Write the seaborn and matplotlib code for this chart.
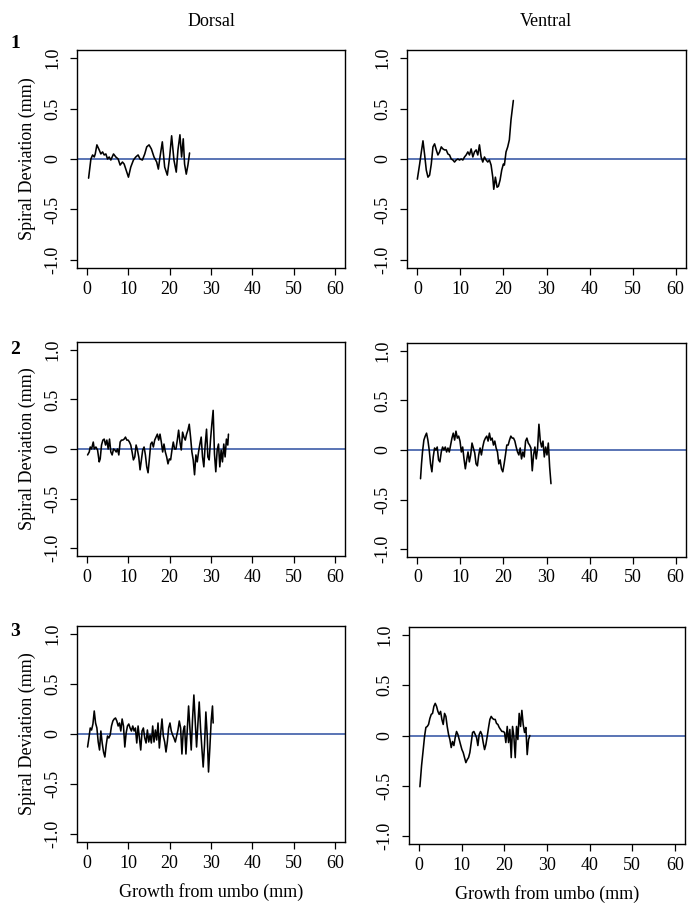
import numpy as np
import pandas as pd
import matplotlib
matplotlib.use("Agg")
import matplotlib.pyplot as plt
import seaborn as sns

# Spiral deviation traces (x: growth from umbo in mm, y: deviation in mm)
dorsal1_x = [0.40, 0.96, 1.37, 1.77, 2.01, 2.41, 2.97, 3.37, 3.78, 4.18,
             4.58, 4.98, 5.38, 5.78, 6.43, 6.99, 7.55, 8.03, 8.59, 9.00,
             9.48, 10.04, 10.60, 11.25, 11.81, 12.37, 12.85, 13.41, 13.98, 14.46,
             15.02, 15.58, 16.22, 16.87, 17.27, 17.67, 18.23, 18.80, 19.44, 20.00,
             20.48, 21.04, 21.60, 22.01, 22.49, 22.89, 23.29, 23.61, 24.02, 24.42,
             24.82]
dorsal1_y = [-0.19, 0.00, 0.04, 0.02, 0.05, 0.14, 0.09, 0.05, 0.07, 0.04,
             0.05, 0.00, 0.02, -0.01, 0.05, 0.02, 0.00, -0.06, -0.03, -0.05,
             -0.11, -0.18, -0.08, -0.01, 0.02, 0.04, 0.00, -0.01, 0.05, 0.12,
             0.14, 0.10, 0.02, -0.03, -0.10, 0.02, 0.17, -0.08, -0.16, 0.02,
             0.23, -0.01, -0.13, 0.09, 0.24, 0.02, 0.20, -0.05, -0.15, -0.06,
             0.06]

ventral1_x = [0.00, 0.54, 0.93, 1.31, 1.70, 2.08, 2.47, 2.85, 3.24, 3.63,
              4.01, 4.40, 4.78, 5.17, 5.56, 5.94, 6.33, 6.71, 7.10, 7.48,
              7.87, 8.26, 8.64, 9.03, 9.41, 9.80, 10.19, 10.57, 10.96, 11.34,
              11.73, 12.11, 12.50, 12.89, 13.27, 13.66, 14.04, 14.43, 14.81, 15.20,
              15.59, 15.97, 16.36, 16.74, 17.13, 17.52, 17.75, 18.13, 18.52, 18.83,
              19.21, 19.60, 19.98, 20.22, 20.60, 20.99, 21.37, 21.76, 22.30]
ventral1_y = [-0.20, -0.05, 0.07, 0.18, 0.04, -0.11, -0.18, -0.16, -0.05, 0.12,
              0.15, 0.09, 0.04, 0.07, 0.12, 0.10, 0.09, 0.09, 0.05, 0.04,
              0.00, -0.01, -0.03, -0.01, 0.00, -0.01, 0.00, -0.01, 0.02, 0.04,
              0.07, 0.04, 0.10, 0.02, 0.07, 0.09, 0.04, 0.14, 0.02, -0.03,
              0.02, -0.01, -0.03, -0.01, -0.06, -0.18, -0.30, -0.18, -0.28, -0.27,
              -0.21, -0.11, -0.05, -0.06, 0.07, 0.12, 0.19, 0.39, 0.58]

dorsal2_x = [0.16, 0.56, 0.80, 1.12, 1.53, 1.77, 2.17, 2.57, 2.97, 3.21,
             3.53, 3.86, 4.18, 4.50, 4.82, 5.14, 5.46, 5.78, 6.10, 6.43,
             6.75, 7.07, 7.39, 7.71, 8.03, 8.35, 8.67, 9.00, 9.32, 9.64,
             9.96, 10.28, 10.60, 10.92, 11.24, 11.57, 11.89, 12.21, 12.53, 12.85,
             13.17, 13.49, 13.82, 14.14, 14.46, 14.78, 15.10, 15.42, 15.74, 16.06,
             16.39, 16.71, 17.03, 17.35, 17.67, 17.99, 18.31, 18.63, 18.96, 19.28,
             19.60, 19.92, 20.24, 20.56, 20.88, 21.20, 21.53, 21.85, 22.17, 22.49,
             22.81, 23.13, 23.45, 23.78, 24.10, 24.42, 24.74, 25.06, 25.38, 25.70,
             26.02, 26.35, 26.67, 26.99, 27.31, 27.63, 27.95, 28.27, 28.59, 28.92,
             29.24, 29.56, 29.88, 30.20, 30.52, 30.84, 31.16, 31.49, 31.81, 32.13,
             32.45, 32.77, 33.09, 33.41, 33.73, 34.06, 34.22]
dorsal2_y = [-0.06, -0.03, 0.02, 0.00, 0.07, 0.00, 0.02, -0.01, -0.13, -0.10,
             0.04, 0.09, 0.10, 0.04, 0.09, 0.00, 0.10, -0.03, -0.06, 0.00,
             -0.01, -0.03, 0.00, -0.06, 0.07, 0.09, 0.09, 0.10, 0.12, 0.09,
             0.09, 0.07, 0.04, -0.03, -0.11, -0.08, 0.04, -0.01, -0.08, -0.21,
             -0.11, -0.01, 0.02, -0.06, -0.18, -0.24, -0.10, 0.05, 0.07, 0.02,
             0.09, 0.12, 0.15, 0.09, 0.15, 0.07, -0.03, 0.05, -0.03, -0.08,
             -0.15, -0.10, -0.11, -0.01, 0.07, 0.00, 0.00, 0.09, 0.19, 0.07,
             -0.01, 0.17, 0.12, 0.09, 0.15, 0.19, 0.25, 0.12, -0.03, -0.11,
             -0.26, -0.06, -0.13, -0.03, 0.05, 0.12, -0.08, -0.18, 0.04, 0.20,
             -0.08, -0.11, 0.09, 0.25, 0.39, -0.05, -0.23, -0.01, 0.05, -0.18,
             -0.01, -0.13, 0.05, -0.08, 0.10, 0.04, 0.15]

ventral2_x = [0.74, 0.97, 1.20, 1.52, 1.83, 2.14, 2.45, 2.76, 3.07, 3.38,
              3.69, 4.00, 4.31, 4.62, 4.93, 5.24, 5.56, 5.87, 6.18, 6.49,
              6.80, 7.11, 7.42, 7.73, 8.04, 8.35, 8.66, 8.97, 9.29, 9.60,
              9.91, 10.22, 10.53, 10.84, 11.15, 11.46, 11.77, 12.08, 12.39, 12.70,
              13.01, 13.33, 13.64, 13.95, 14.26, 14.57, 14.88, 15.19, 15.50, 15.81,
              16.12, 16.43, 16.74, 17.05, 17.37, 17.68, 17.99, 18.30, 18.61, 18.92,
              19.23, 19.54, 19.85, 20.16, 20.47, 20.78, 21.10, 21.41, 21.72, 22.03,
              22.34, 22.65, 22.96, 23.27, 23.58, 23.89, 24.20, 24.51, 24.83, 25.14,
              25.45, 25.76, 26.07, 26.38, 26.69, 27.00, 27.31, 27.62, 27.93, 28.24,
              28.56, 28.87, 29.18, 29.49, 29.80, 30.11, 30.42, 30.73, 31.04]
ventral2_y = [-0.29, -0.14, -0.02, 0.10, 0.14, 0.17, 0.10, 0.00, -0.14, -0.22,
              -0.07, 0.02, 0.00, 0.03, -0.10, -0.12, -0.02, 0.03, 0.00, 0.03,
              -0.02, 0.02, -0.02, 0.05, 0.12, 0.17, 0.10, 0.19, 0.12, 0.14,
              0.09, -0.02, 0.03, -0.09, -0.19, -0.10, -0.02, -0.12, -0.05, 0.07,
              0.02, -0.03, -0.14, -0.16, -0.05, 0.02, -0.05, 0.03, 0.09, 0.12,
              0.14, 0.09, 0.17, 0.10, 0.12, 0.05, 0.09, 0.02, -0.02, -0.14,
              -0.10, -0.19, -0.22, -0.14, -0.05, 0.05, 0.05, 0.10, 0.14, 0.12,
              0.12, 0.09, 0.03, -0.02, -0.05, 0.02, -0.09, -0.02, -0.07, 0.09,
              0.12, 0.07, 0.05, 0.02, -0.21, -0.05, 0.03, -0.09, 0.02, 0.26,
              0.09, 0.03, 0.09, -0.07, 0.03, -0.05, 0.07, -0.17, -0.34]

dorsal3_x = [0.16, 0.48, 0.80, 1.12, 1.45, 1.77, 2.09, 2.41, 2.73, 3.05,
             3.37, 3.69, 4.02, 4.34, 4.66, 4.98, 5.30, 5.62, 5.94, 6.27,
             6.59, 6.91, 7.23, 7.55, 7.87, 8.19, 8.51, 8.84, 9.16, 9.48,
             9.80, 10.12, 10.44, 10.76, 11.08, 11.41, 11.73, 12.05, 12.37, 12.69,
             13.01, 13.33, 13.65, 13.98, 14.30, 14.62, 14.94, 15.26, 15.58, 15.90,
             16.22, 16.55, 16.87, 17.19, 17.51, 17.83, 18.15, 18.47, 18.80, 19.12,
             19.44, 19.76, 20.08, 20.40, 20.72, 21.04, 21.37, 21.69, 22.01, 22.33,
             22.65, 22.97, 23.29, 23.61, 23.94, 24.26, 24.58, 24.90, 25.22, 25.54,
             25.86, 26.18, 26.51, 26.83, 27.15, 27.47, 27.79, 28.11, 28.43, 28.76,
             29.08, 29.40, 29.72, 30.04, 30.36, 30.52]
dorsal3_y = [-0.13, -0.04, 0.06, 0.04, 0.10, 0.23, 0.11, 0.06, -0.08, -0.16,
             0.03, -0.09, -0.18, -0.23, -0.11, -0.02, -0.04, -0.01, 0.08, 0.13,
             0.15, 0.16, 0.13, 0.08, 0.11, 0.03, 0.15, 0.08, -0.13, 0.01,
             0.08, 0.10, 0.06, 0.03, 0.08, 0.03, 0.06, -0.09, 0.08, -0.04,
             -0.16, 0.03, 0.06, -0.04, -0.09, 0.04, -0.08, -0.01, -0.09, 0.08,
             -0.08, 0.04, -0.06, 0.11, -0.14, 0.01, 0.15, -0.02, -0.08, -0.18,
             -0.08, 0.06, 0.11, 0.03, -0.01, -0.04, -0.08, -0.02, 0.04, 0.13,
             0.06, -0.20, 0.03, 0.08, -0.20, 0.04, 0.28, 0.06, -0.16, 0.15,
             0.39, 0.13, -0.13, 0.10, 0.32, 0.06, -0.14, -0.33, -0.11, 0.22,
             -0.01, -0.38, -0.14, 0.13, 0.28, 0.11]

ventral3_x = [0.16, 0.55, 0.94, 1.25, 1.56, 1.88, 2.19, 2.50, 2.82, 3.13,
              3.44, 3.76, 4.07, 4.38, 4.69, 5.01, 5.32, 5.63, 5.95, 6.26,
              6.57, 6.89, 7.20, 7.51, 7.82, 8.14, 8.45, 8.76, 9.08, 9.39,
              9.70, 10.02, 10.33, 10.64, 10.95, 11.27, 11.58, 11.89, 12.21, 12.52,
              12.83, 13.15, 13.46, 13.77, 14.08, 14.40, 14.71, 15.02, 15.34, 15.65,
              15.96, 16.28, 16.59, 16.90, 17.21, 17.53, 17.84, 18.15, 18.47, 18.78,
              19.09, 19.41, 19.72, 20.03, 20.34, 20.66, 20.97, 21.28, 21.60, 21.91,
              22.22, 22.54, 22.85, 23.16, 23.47, 23.79, 24.10, 24.41, 24.73, 25.04,
              25.35, 25.67, 25.98]
ventral3_y = [-0.51, -0.30, -0.14, -0.01, 0.08, 0.09, 0.11, 0.17, 0.21, 0.22,
              0.29, 0.32, 0.29, 0.24, 0.21, 0.24, 0.16, 0.11, 0.22, 0.19,
              0.09, 0.01, -0.04, -0.12, -0.06, -0.10, -0.02, 0.04, 0.01, -0.04,
              -0.09, -0.14, -0.17, -0.22, -0.27, -0.24, -0.22, -0.17, -0.07, 0.03,
              0.04, 0.01, -0.02, -0.10, 0.01, 0.04, 0.01, -0.07, -0.14, -0.09,
              -0.01, 0.08, 0.16, 0.19, 0.17, 0.16, 0.16, 0.12, 0.11, 0.08,
              0.06, 0.04, 0.04, 0.03, -0.07, 0.09, -0.07, 0.06, -0.22, 0.09,
              -0.01, -0.22, 0.09, -0.04, 0.22, 0.09, 0.25, 0.11, 0.03, 0.08,
              -0.19, -0.04, 0.00]

sides = ["Dorsal", "Ventral"]
rows = ["1", "2", "3"]
x_ticks = [0, 10, 20, 30, 40, 50, 60]
y_ticks = [-1.0, -0.5, 0.0, 0.5, 1.0]
y_tick_labels = ["-1.0", "-0.5", "0", "0.5", "1.0"]

traces = {
    ("1", "Dorsal"): (dorsal1_x, dorsal1_y),
    ("1", "Ventral"): (ventral1_x, ventral1_y),
    ("2", "Dorsal"): (dorsal2_x, dorsal2_y),
    ("2", "Ventral"): (ventral2_x, ventral2_y),
    ("3", "Dorsal"): (dorsal3_x, dorsal3_y),
    ("3", "Ventral"): (ventral3_x, ventral3_y),
}

frames = []
for (r, s), (xs, ys) in traces.items():
    frames.append(pd.DataFrame({"row": r, "side": s, "growth": xs, "dev": ys}))
df = pd.concat(frames, ignore_index=True)

sns.set_style("ticks")
plt.rcParams["font.family"] = ["Liberation Serif", "DejaVu Serif"]
plt.rcParams["font.size"] = 13
for key in ["text.color", "axes.labelcolor", "xtick.color", "ytick.color", "axes.edgecolor"]:
    plt.rcParams[key] = "black"

fig = plt.figure(figsize=(7.0, 9.15), dpi=100)
W, H = 700.0, 915.0

# axes boxes in pixels: (left, top, right, bottom)
boxes = {
    ("1", "Dorsal"): (77, 50, 345, 268),
    ("1", "Ventral"): (407, 50, 686, 268),
    ("2", "Dorsal"): (77, 342, 345, 556),
    ("2", "Ventral"): (407, 343, 686, 557),
    ("3", "Dorsal"): (77, 626, 345, 842),
    ("3", "Ventral"): (409, 627, 685, 844),
}
blue = "#3d5ca8"

for (r, s), (l, t, rr, b) in boxes.items():
    ax = fig.add_axes([l / W, 1 - b / H, (rr - l) / W, (b - t) / H])
    sub = df[(df["row"] == r) & (df["side"] == s)]
    ax.axhline(0, color=blue, lw=1.2, zorder=1)
    sns.lineplot(data=sub, x="growth", y="dev", sort=False, estimator=None,
                 color="black", lw=1.15, ax=ax, zorder=2)
    ax.set_xlim(-2.4, 62.4)
    ax.set_ylim(-1.08, 1.08)
    ax.set_xticks(x_ticks)
    ax.set_yticks(y_ticks)
    ax.set_yticklabels(y_tick_labels, rotation=90, va="center")
    ax.tick_params(direction="out", length=5, width=0.9, labelsize=13, color="black",
                   labelcolor="black")
    ax.tick_params(axis="y", pad=6)
    ax.tick_params(axis="x", pad=4)
    for sp in ax.spines.values():
        sp.set_visible(True)
        sp.set_linewidth(1.0)
        sp.set_color("black")
    ax.set_xlabel("Growth from umbo (mm)" if r == "3" else "", fontsize=13, labelpad=8)
    ax.set_ylabel("Spiral Deviation (mm)" if s == "Dorsal" else "", fontsize=13, labelpad=6)

fig.text(211 / W, 1 - 22 / H, "Dorsal", ha="center", va="center", fontsize=13)
fig.text(546 / W, 1 - 22 / H, "Ventral", ha="center", va="center", fontsize=13)
for r, ypix in zip(rows, [43, 350, 632]):
    fig.text(15 / W, 1 - ypix / H, r, ha="center", va="center", fontsize=14, fontweight="bold")

fig.savefig("out.png", dpi=100)
